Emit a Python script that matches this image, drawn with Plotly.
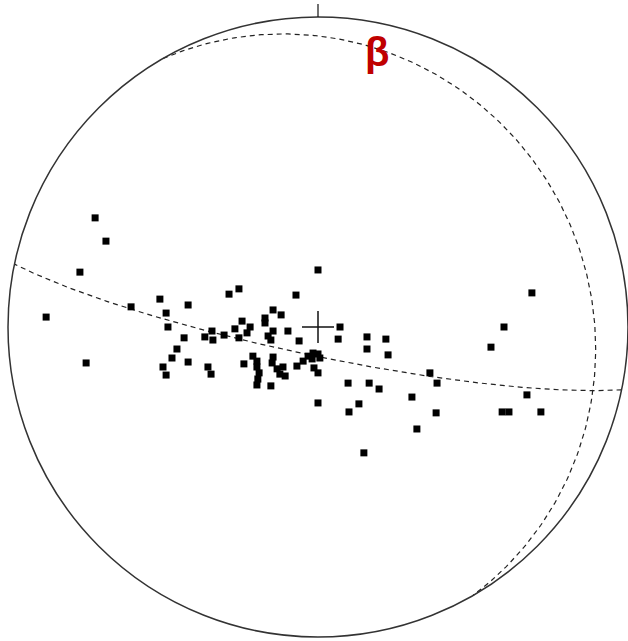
import numpy as np
import plotly.graph_objects as go

# Poles (scatter points) in net coordinates: east, north on a unit primitive circle
pole_x = [-0.719, -0.684, -0.768, -0.877, -0.748, -0.603, -0.510, -0.419, -0.490, -0.484,
          -0.432, -0.455, -0.471, -0.419, -0.500, -0.490, -0.355, -0.345, -0.287, -0.255,
          -0.365, -0.342, -0.339, -0.303, -0.255, -0.268, -0.245, -0.219, -0.229, -0.239,
          -0.171, -0.171, -0.145, -0.119, -0.145, -0.161, -0.152, -0.097, -0.061, -0.071,
          0.000, 0.071, 0.065, -0.210, -0.197, -0.197, -0.190, -0.194, -0.197, -0.145,
          -0.148, -0.132, -0.113, -0.123, -0.106, -0.152, -0.068, -0.048, -0.032, -0.016,
          0.000, 0.006, -0.019, -0.013, 0.000, 0.000, 0.158, 0.219, 0.158, 0.226,
          0.097, 0.165, 0.197, 0.303, 0.361, 0.384, 0.132, 0.100, 0.381, 0.319,
          0.148, 0.558, 0.600, 0.690, 0.674, 0.594, 0.616, 0.719]
pole_y = [0.352, 0.277, 0.177, 0.032, -0.116, 0.065, 0.090, 0.071, 0.045, 0.000,
          -0.035, -0.071, -0.100, -0.113, -0.129, -0.155, -0.129, -0.152, 0.106, 0.123,
          -0.032, -0.013, -0.042, -0.026, -0.035, -0.006, 0.019, 0.000, -0.019, -0.119,
          0.029, 0.013, 0.055, 0.039, -0.013, -0.029, -0.042, -0.013, -0.045, 0.103,
          0.184, 0.000, -0.039, -0.094, -0.110, -0.129, -0.148, -0.168, -0.187, -0.097,
          -0.116, -0.135, -0.129, -0.152, -0.158, -0.190, -0.126, -0.110, -0.094, -0.084,
          -0.087, -0.100, -0.103, -0.132, -0.148, -0.245, -0.032, -0.039, -0.071, -0.090,
          -0.181, -0.181, -0.200, -0.226, -0.148, -0.181, -0.248, -0.274, -0.277, -0.329,
          -0.406, -0.065, 0.000, 0.110, -0.219, -0.274, -0.274, -0.274]

# Planes (dip direction, dip) in degrees
girdle_dipdir, girdle_dip = 191.7, 82.4
plane2_dipdir, plane2_dip = 60.0, 13.4
beta_text = "β"


def schmidt(trend, plunge):
    r = np.sqrt(2) * np.sin(np.radians(90 - np.asarray(plunge)) / 2)
    tr = np.radians(trend)
    return r * np.sin(tr), r * np.cos(tr)


def great_circle(dipdir, dip, n=241):
    t = np.radians(np.linspace(0, 180, n))
    s = np.radians(dipdir - 90)
    dd = np.radians(dipdir)
    d = np.radians(dip)
    S = np.array([np.sin(s), np.cos(s), 0.0])
    D = np.array([np.cos(d) * np.sin(dd), np.cos(d) * np.cos(dd), np.sin(d)])
    v = np.outer(np.cos(t), S) + np.outer(np.sin(t), D)
    trend = np.degrees(np.arctan2(v[:, 0], v[:, 1]))
    plunge = np.degrees(np.arcsin(np.clip(v[:, 2], -1, 1)))
    return schmidt(trend, plunge)


gx, gy = great_circle(girdle_dipdir, girdle_dip)
px2, py2 = great_circle(plane2_dipdir, plane2_dip)
bx, by = schmidt(girdle_dipdir - 180, 90 - girdle_dip)

dash_line = dict(color="#222222", width=1.2, dash="5px,4px")

fig = go.Figure()
fig.add_trace(go.Scatter(x=gx, y=gy, mode="lines", line=dash_line, hoverinfo="skip"))
fig.add_trace(go.Scatter(x=px2, y=py2, mode="lines", line=dash_line, hoverinfo="skip"))
fig.add_trace(go.Scatter(x=pole_x, y=pole_y, mode="markers",
                         marker=dict(symbol="square", size=7, color="black",
                                     line=dict(width=0))))

C = 310.0
fig.update_layout(
    width=628, height=641,
    margin=dict(l=0, r=0, t=0, b=0),
    paper_bgcolor="white", plot_bgcolor="white",
    showlegend=False,
    xaxis=dict(range=[-318 / C, 310 / C], visible=False, fixedrange=True),
    yaxis=dict(range=[-314 / C, 327 / C], visible=False, fixedrange=True),
    shapes=[
        dict(type="circle", xref="x", yref="y", x0=-1, y0=-1, x1=1, y1=1,
             line=dict(color="#333333", width=1.5)),
        dict(type="line", xref="x", yref="y", x0=0, y0=1, x1=0, y1=1 + 13 / C,
             line=dict(color="#111111", width=1.2)),
        dict(type="line", xref="x", yref="y", x0=-16 / C, y0=0, x1=16 / C, y1=0,
             line=dict(color="#111111", width=1.5)),
        dict(type="line", xref="x", yref="y", x0=0, y0=-16 / C, x1=0, y1=16 / C,
             line=dict(color="#111111", width=1.5)),
    ],
    annotations=[
        dict(x=float(bx), y=float(by), text="<b>" + beta_text + "</b>", showarrow=False,
             xanchor="center", yanchor="middle", yshift=-8,
             font=dict(family="Liberation Sans Narrow, Liberation Sans", size=40,
                       color="#c00000")),
    ],
)

fig.write_html(
    "out.html",
    config={"displayModeBar": False},
    post_script="document.body.style.margin='0';document.body.style.overflow='hidden';",
)
